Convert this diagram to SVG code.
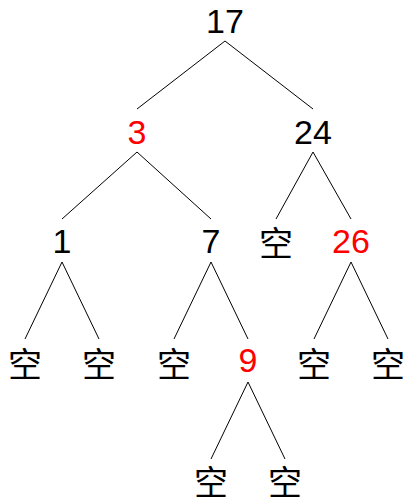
<svg xmlns="http://www.w3.org/2000/svg" width="405" height="502" viewBox="0 0 405 502">
<style>
.t{font-family:"Liberation Sans","Noto Sans CJK SC",sans-serif;font-size:34px;text-anchor:middle;fill:#000}
.c{font-family:"Noto Sans CJK SC","Noto Sans CJK JP",sans-serif;font-size:34px;text-anchor:middle;fill:#000}
.r{fill:#ff0000}
.e line{stroke:#000;stroke-width:1}
</style>
<rect width="405" height="502" fill="#fff"/>
<g class="e" id="edges">
<line x1="225" y1="41" x2="137" y2="109"/>
<line x1="225" y1="41" x2="313" y2="109"/>
<line x1="137" y1="152" x2="62" y2="219"/>
<line x1="137" y1="152" x2="211" y2="219"/>
<line x1="313" y1="152" x2="276" y2="219"/>
<line x1="313" y1="152" x2="351" y2="219"/>
<line x1="62" y1="262" x2="25" y2="339"/>
<line x1="62" y1="262" x2="99" y2="339"/>
<line x1="211" y1="262" x2="174" y2="339"/>
<line x1="211" y1="262" x2="248" y2="339"/>
<line x1="351" y1="262" x2="314" y2="339"/>
<line x1="351" y1="262" x2="388" y2="339"/>
<line x1="248" y1="382" x2="211" y2="459"/>
<line x1="248" y1="382" x2="285" y2="459"/>
</g>
<g id="n17"><text class="t" x="225" y="33">17</text></g>
<g id="n3"><text class="t r" x="137" y="144">3</text></g>
<g id="n24"><text class="t" x="313" y="144">24</text></g>
<g id="n1"><text class="t" x="62" y="253">1</text></g>
<g id="n7"><text class="t" x="211" y="253">7</text></g>
<g id="e24l"><text class="c" x="276" y="256">空</text></g>
<g id="n26"><text class="t r" x="351" y="253">26</text></g>
<g id="e1l"><text class="c" x="25" y="377">空</text></g>
<g id="e1r"><text class="c" x="99" y="377">空</text></g>
<g id="e7l"><text class="c" x="174" y="377">空</text></g>
<g id="n9"><text class="t r" x="248" y="372">9</text></g>
<g id="e26l"><text class="c" x="314" y="377">空</text></g>
<g id="e26r"><text class="c" x="388" y="377">空</text></g>
<g id="e9l"><text class="c" x="211" y="495">空</text></g>
<g id="e9r"><text class="c" x="285" y="495">空</text></g>
</svg>
